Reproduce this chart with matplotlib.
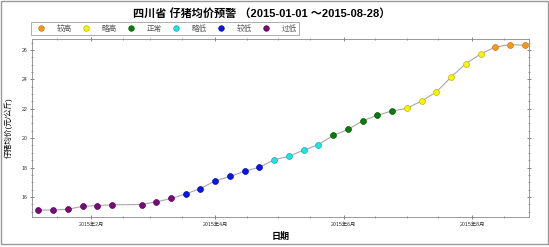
import matplotlib
matplotlib.use('Agg')
import matplotlib.pyplot as plt
import matplotlib.dates as mdates
from matplotlib.lines import Line2D
from matplotlib.patches import Rectangle
import numpy as np
import pandas as pd

plt.rcParams['font.family'] = ['Liberation Sans', 'Noto Sans CJK SC', 'DejaVu Sans']

# weekly prices, 2015 (no report on the Spring Festival week)
dates = pd.to_datetime([
    '2015-01-07', '2015-01-14', '2015-01-21', '2015-01-28', '2015-02-04',
    '2015-02-11', '2015-02-25', '2015-03-04', '2015-03-11', '2015-03-18',
    '2015-03-25', '2015-04-01', '2015-04-08', '2015-04-15', '2015-04-22',
    '2015-04-29', '2015-05-06', '2015-05-13', '2015-05-20', '2015-05-27',
    '2015-06-03', '2015-06-10', '2015-06-17', '2015-06-24', '2015-07-01',
    '2015-07-08', '2015-07-15', '2015-07-22', '2015-07-29', '2015-08-05',
    '2015-08-12', '2015-08-19', '2015-08-26'])
prices = [15.10, 15.10, 15.16, 15.35, 15.41, 15.46, 15.48, 15.66, 15.89,
          16.20, 16.57, 17.09, 17.39, 17.75, 18.02, 18.52, 18.77, 19.18,
          19.56, 20.18, 20.59, 21.17, 21.56, 21.85, 22.03, 22.53, 23.14,
          24.16, 25.07, 25.73, 26.20, 26.37, 26.32]
levels = (['过低'] * 9 + ['较低'] * 6 + ['略低'] * 4 + ['正常'] * 5 +
          ['略高'] * 6 + ['较高'] * 3)

level_names = ['较高', '略高', '正常', '略低', '较低', '过低']
level_colors = {'较高': '#f39a1b', '略高': '#f5f500', '正常': '#0a7a0a',
                '略低': '#1ee6e6', '较低': '#0a14f0', '过低': '#7a0a7a'}
level_edges = {'较高': '#c87810', '略高': '#c8b400', '正常': '#085a08',
               '略低': '#10a8a8', '较低': '#080ca8', '过低': '#540854'}

fig = plt.figure(figsize=(5.49, 2.47), dpi=100)
ax = fig.add_axes([32 / 549, 1 - 217 / 247, 497 / 549, 178 / 247])

ax.plot(dates, prices, color='#a8a8a8', lw=0.8, zorder=1)
for name in level_names:
    idx = [i for i, l in enumerate(levels) if l == name]
    ax.scatter(dates[idx], [prices[i] for i in idx], s=18,
               color=level_colors[name], edgecolors=level_edges[name],
               linewidths=0.5, zorder=2)

ax.set_xlim(pd.Timestamp('2015-01-04'), pd.Timestamp('2015-08-28'))
ax.set_ylim(14.63, 26.75)

ax.set_yticks(np.arange(16, 27, 2))
ax.set_yticks(np.arange(15, 26.6, 0.5), minor=True)
ax.xaxis.set_major_locator(mdates.MonthLocator(bymonth=[2, 4, 6, 8]))
ax.xaxis.set_minor_locator(mdates.MonthLocator(bymonthday=[1, 16]))
ax.xaxis.set_major_formatter(mdates.DateFormatter('%Y年%-m月'))

ax.tick_params(axis='both', which='major', labelsize=3.8, length=3, width=0.5,
               color='#555555', labelcolor='#333333', pad=2)
ax.tick_params(axis='both', which='minor', length=1.5, width=0.4, color='#555555')
ax.tick_params(axis='y', which='both', direction='inout', right=True)
ax.tick_params(axis='x', which='both', direction='inout', top=True)
for s in ax.spines.values():
    s.set_color('#888888')
    s.set_linewidth(0.6)

ax.set_ylabel('仔猪均价(元/公斤)', fontsize=5.5, labelpad=6)
ax.set_xlabel('日期', fontsize=6.5, fontweight='bold', labelpad=4)

fig.text(0.476, 1 - 13 / 247, '四川省 仔猪均价预警 （2015-01-01 ～2015-08-28）',
         ha='center', va='center', fontsize=8, fontweight='bold')

handles = [Line2D([], [], marker='o', ls='none', markersize=4,
                  markerfacecolor=level_colors[n], markeredgecolor=level_edges[n],
                  markeredgewidth=0.5) for n in level_names]
leg = fig.legend(handles, level_names, loc='lower left', ncol=6,
                 bbox_to_anchor=(31 / 549, 1 - 35 / 247), fontsize=5.5,
                 frameon=True, fancybox=False, borderpad=0.3, handletextpad=1.0,
                 columnspacing=0.9, handlelength=2.0, borderaxespad=0)
leg.get_frame().set_edgecolor('#888888')
leg.get_frame().set_linewidth(0.6)
for t in leg.get_texts():
    t.set_color('#555555')

fig.patches.append(Rectangle((0.001, 0.012), 0.997, 0.985, transform=fig.transFigure,
                             fill=False, edgecolor='#999999', lw=1))

fig.savefig('out.png', dpi=100)
